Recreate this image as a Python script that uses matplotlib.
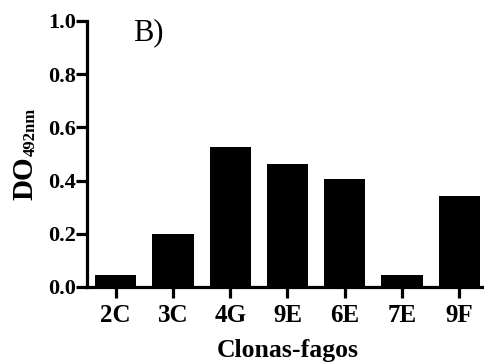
import numpy as np
import matplotlib

matplotlib.use('Agg')
import matplotlib.pyplot as plt

# data
clones = ['2C', '3C', '4G', '9E', '6E', '7E', '9F']
od_values = [0.045, 0.20, 0.525, 0.463, 0.406, 0.044, 0.342]
y_ticks = [0.0, 0.2, 0.4, 0.6, 0.8, 1.0]

plt.rcParams['font.family'] = 'Liberation Serif'
plt.rcParams['font.weight'] = 'bold'

W, H = 485, 362
fig = plt.figure(figsize=(W / 100, H / 100), dpi=100)
ax = fig.add_axes([87 / W, 75 / H, 401 / W, 266 / H])

x = np.arange(len(clones))
ax.bar(x, od_values, width=0.72, color='black')

ax.set_xlim(-0.5, len(clones) - 0.5)
ax.set_ylim(0, 1.0)
ax.set_yticks(y_ticks)
ax.set_yticklabels(['%.1f' % v for v in y_ticks])
ax.set_xticks(x)
ax.set_xticklabels(clones)

for s in ['top', 'right']:
  ax.spines[s].set_visible(False)
for s in ['left', 'bottom']:
  ax.spines[s].set_linewidth(2.3)
  ax.spines[s].set_clip_on(False)

ax.tick_params(axis='y', labelsize=16, width=2.3, length=8, pad=0)
ax.tick_params(axis='x', labelsize=18, width=2.3, length=8, pad=4)

ax.set_xlabel('Clonas-fagos', fontsize=18.5, fontweight='bold', labelpad=9)

# y label: DO with small subscript
fig.text(32 / W, 1 - 200 / H, 'DO', fontsize=21, fontweight='bold',
         rotation=90, rotation_mode='anchor', ha='left', va='baseline')
fig.text(34.5 / W, 1 - 156 / H, '492nm', fontsize=12, fontweight='bold',
         rotation=90, rotation_mode='anchor', ha='left', va='baseline')

fig.text(133 / W, 1 - 40 / H, 'B)', fontsize=22, fontweight='normal',
         ha='left', va='baseline')

plt.savefig('out.png', dpi=100)
plt.close()
